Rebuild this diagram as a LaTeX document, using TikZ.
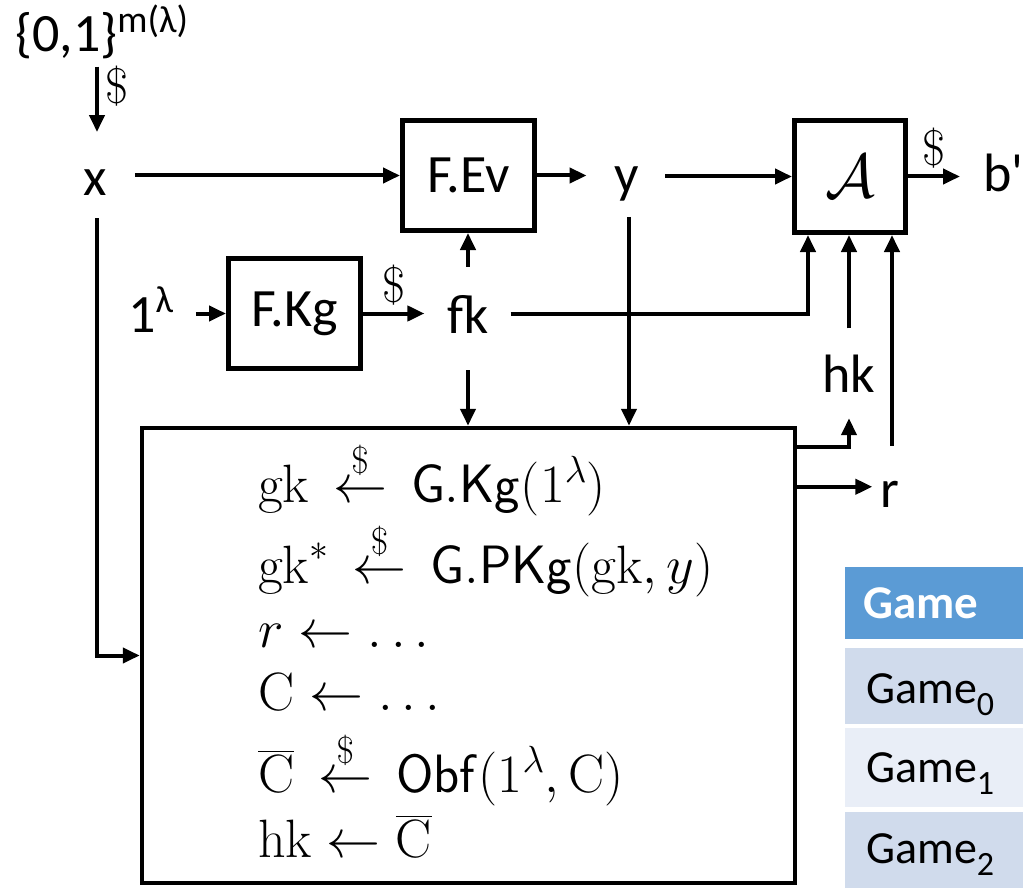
\documentclass[tikz,border=0pt]{standalone}
\usepackage{fix-cm}
\usepackage{amsmath}
\usepackage[no-math]{fontspec}
\setmainfont{Carlito}
\usetikzlibrary{arrows.meta,positioning,calc}
\definecolor{gmhead}{HTML}{5B9BD5}
\definecolor{gmdark}{HTML}{D0DBEC}
\definecolor{gmlight}{HTML}{E9EEF7}
\newcommand{\rndgets}{\mathrel{\,\overset{\raisebox{4pt}{$\scriptstyle\$$}}{\leftarrow}\,}}
\newcommand{\gamesub}[1]{\raisebox{-12pt}{\fontsize{34}{34}\selectfont #1}}

\begin{document}
\begin{tikzpicture}[x=1pt, y=1pt,
  lbl/.style={inner sep=0pt, font=\fontsize{54}{60}\selectfont},
  blk/.style={draw, line width=5pt, inner sep=0pt, minimum width=132pt,
              minimum height=110pt, font=\fontsize{54}{60}\selectfont},
  arr/.style={line width=4pt, -{Triangle[length=17pt,width=15pt]}},
  dol/.style={inner sep=0pt, font=\fontsize{50}{56}\selectfont},
  mline/.style={anchor=base west, inner sep=0pt, font=\fontsize{54}{60}\selectfont},
  cell/.style={anchor=base west, inner sep=0pt, font=\fontsize{46}{52}\selectfont}
]
\useasboundingbox (0,0) rectangle (1023,-888);

% values
\node[lbl, anchor=base west] (src) at (15,-52) {\{0,1\}\textsuperscript{m(λ)}};
\node[lbl, anchor=base] (x) at (95,-195) {x};
\node[lbl, anchor=base] (y) at (627,-193) {y};
\node[lbl, anchor=base west] (one) at (128,-332) {1\textsuperscript{λ}};
\node[lbl, anchor=base] (fk) at (468,-333) {fk};
\node[lbl, anchor=base] (hk) at (849,-392) {hk};
\node[lbl, anchor=base] (r) at (890,-507) {r};
\node[lbl, anchor=base west] (bout) at (983,-192) {b\textquotesingle};

% algorithms
\node[blk] (fev) at (468.5,-175.5) {F.Ev};
\node[blk] (fkg) at (294.5,-313.5) {F.Kg};
\node[blk, minimum width=111pt, minimum height=112pt, font=\fontsize{62}{66}\selectfont]
  (adv) at (850,-176.5) {$\mathcal{A}$};
\node[draw, line width=4.5pt, inner sep=0pt, minimum width=653pt, minimum height=455pt]
  (red) at (468.5,-655.5) {};

% reduction code
\node[mline] (l1) at (258,-502) {$\mathrm{gk} \rndgets \mathsf{G.Kg}(1^{\lambda})$};
\node[mline] (l2) at (258,-583) {$\mathrm{gk}^{*} \rndgets \mathsf{G.PKg}(\mathrm{gk}, y)$};
\node[mline] (l3) at (258,-647) {$r \leftarrow \ldots$};
\node[mline] (l4) at (258,-710) {$\mathrm{C} \leftarrow \ldots$};
\node[mline] (l5) at (258,-792) {$\overline{\mathrm{C}} \rndgets \mathsf{Obf}(1^{\lambda}, \mathrm{C})$};
\node[mline] (l6) at (258,-857) {$\mathrm{hk} \leftarrow \overline{\mathrm{C}}$};

% game table
\fill[gmhead] (845,-567) rectangle (1023,-639);
\fill[gmdark] (845,-648) rectangle (1023,-724);
\fill[gmlight] (845,-728) rectangle (1023,-807);
\fill[gmdark] (845,-812) rectangle (1023,-888);
\node[cell, text=white, font=\fontsize{47}{52}\selectfont\bfseries] (ghd) at (863,-618) {Game};
\node[cell] (g0) at (866,-703) {Game\gamesub{0}};
\node[cell] (g1) at (866,-782) {Game\gamesub{1}};
\node[cell] (g2) at (866,-863) {Game\gamesub{2}};

% connectors
\draw[arr] ($(x.north |- src.south)+(2,-7)$) -- ($(x.north)+(2,37)$)
  node[dol, pos=0.3, right=6pt] {$\$$};
\draw[arr] ($(x.east |- fev.west)+(28,0)$) -- (fev.west);
\draw[arr] (fev.east) -- ($(y.west |- fev.east)+(-28,0)$);
\draw[arr] ($(y.east |- adv.west)+(26,0)$) -- (adv.west);
\draw[arr] (adv.east) -- ($(bout.west |- adv.east)+(-23,0)$)
  node[dol, midway, above=6pt] {$\$$};
\draw[arr] ($(one.east |- fkg.west)+(22,0)$) -- (fkg.west);
\draw[arr] (fkg.east) -- ($(fk.west |- fkg.east)+(-23,0)$)
  node[dol, midway, above=6pt] {$\$$};
\draw[arr] ($(fk.north)+(0,28)$) -- (fk.north |- fev.south);
\draw[arr] ($(fk.east)+(22,0)$) -| ($(adv.south)+(-42,0)$);
\draw[arr] ($(fk.south)+(0,-37)$) -- (fk.south |- red.north);
\draw[arr] ($(y.south)+(2,-15)$) -- ($(y.south |- red.north)+(2,0)$);
\draw[arr] ($(hk.north)+(0,26)$) -- (hk.north |- adv.south);
\draw[arr] ($(r.north)+(2,35)$) -- ($(r.north |- adv.south)+(2,0)$);
\draw[arr] ($(red.north east)+(0,-21)$) -| ($(hk.south)+(0,-26)$);
\draw[arr] ($(red.north east)+(0,-61)$) -- ($(red.north east -| r.west)+(-8,-61)$);
\draw[arr] ($(x.south)+(2,-23)$) |- (red.west);
\end{tikzpicture}
\end{document}
